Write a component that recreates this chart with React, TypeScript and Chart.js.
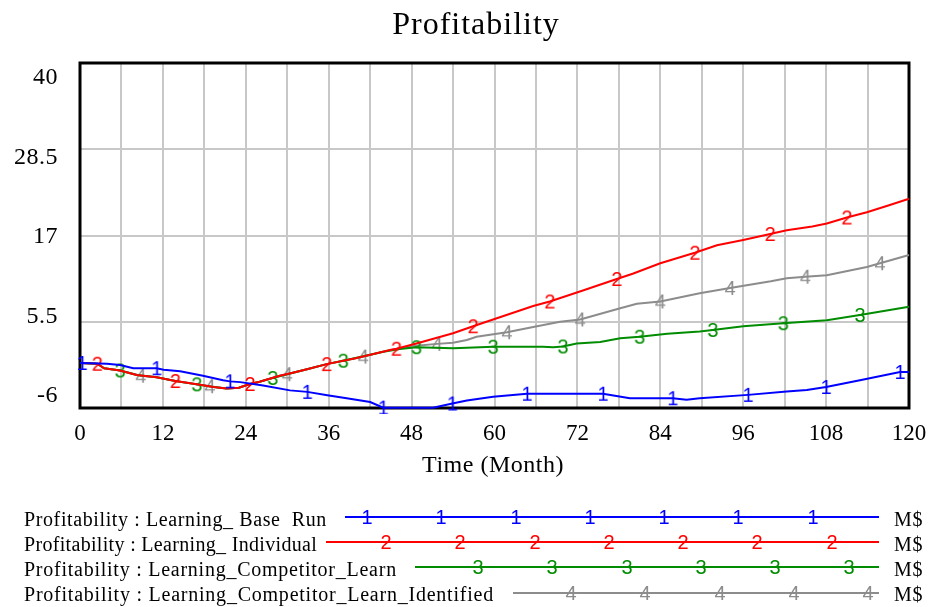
import { useEffect, useRef } from 'react';
import { Chart, registerables } from 'chart.js';

Chart.register(...registerables);

const SERIF = '"Liberation Serif", "Times New Roman", serif';
const SANS = '"Liberation Sans", Arial, sans-serif';

const chartTitle = 'Profitability';
const xAxisTitle = 'Time (Month)';
const unitLabel = 'M$';

const yTicks = [-6, 5.5, 17, 28.5, 40];
const xGridStep = 6;
const xLabelStep = 12;

// Series 1: Learning_Base Run
const baseMonths = [0, 0.3, 3.9, 5.8, 7.7, 11.1, 12.1, 14.5, 17.8, 20.7, 21.7, 23.2, 26.5, 30.4, 32.9, 35.8, 38.6, 42, 43.9, 51.1, 53.9, 56, 59.8, 64.7, 75.7, 77, 79.6, 85.8, 87.8, 89.7, 96.7, 102.3, 105.2, 108, 112.9, 118.7, 120];
const baseValues = [0, 0, -0.1, -0.27, -0.7, -0.7, -0.9, -1.1, -1.7, -2.3, -2.45, -2.55, -3.0, -3.65, -3.85, -4.3, -4.7, -5.2, -5.95, -5.95, -5.4, -5.0, -4.5, -4.1, -4.1, -4.3, -4.7, -4.7, -4.9, -4.7, -4.25, -3.8, -3.6, -3.2, -2.3, -1.2, -1.2];
const baseMarkers = [0.3, 11.1, 21.7, 32.9, 43.9, 53.9, 64.7, 75.7, 85.8, 96.7, 108, 118.7];

// Series 2: Learning_Individual
const indivMonths = [0, 2.5, 3.5, 5.8, 8.2, 11.1, 13.8, 17.4, 19.3, 21.2, 23, 24.6, 26, 28.9, 30.8, 33, 35.7, 39.9, 44.9, 45.8, 48.7, 54, 56.9, 59.8, 65.6, 68, 72.9, 77.7, 80, 84, 89, 92.2, 96, 99.9, 102.3, 106, 108.1, 111, 113.9, 117, 120];
const indivValues = [0, -0.1, -0.7, -1.0, -1.6, -1.9, -2.4, -2.9, -3.2, -3.4, -3.3, -2.8, -2.5, -1.7, -1.3, -0.8, -0.15, 0.63, 1.73, 1.9, 2.6, 3.96, 4.9, 5.8, 7.6, 8.2, 9.7, 11.2, 11.9, 13.3, 14.7, 15.7, 16.4, 17.2, 17.7, 18.2, 18.6, 19.4, 20.1, 21.0, 21.9];
const indivMarkers = [2.5, 13.8, 24.6, 35.7, 45.8, 56.9, 68, 77.7, 89, 99.9, 111];

// Series 3: Learning_Competitor_Learn
const compMonths = [0, 2.5, 3.5, 5.8, 8.2, 11.1, 13.8, 16.9, 19.3, 21.2, 23, 24.6, 26, 27.9, 30.8, 33, 35.7, 38.1, 41.5, 43.9, 46.3, 48.7, 54, 56, 59.8, 67, 68.5, 69.9, 71.9, 75.3, 78.2, 81, 85, 89.7, 91.6, 96, 101.8, 108.1, 112.9, 120];
const compValues = [0, -0.1, -0.7, -1.0, -1.6, -1.9, -2.4, -2.85, -3.2, -3.4, -3.3, -2.8, -2.5, -2.0, -1.3, -0.8, -0.15, 0.3, 1.0, 1.5, 1.87, 2.1, 1.96, 2.04, 2.17, 2.17, 2.1, 2.2, 2.6, 2.8, 3.3, 3.5, 3.9, 4.2, 4.4, 4.9, 5.3, 5.7, 6.4, 7.5];
const compMarkers = [5.8, 16.9, 27.9, 38.1, 48.7, 59.8, 69.9, 81, 91.6, 101.8, 112.9];

// Series 4: Learning_Competitor_Learn_Identified
const identMonths = [0, 2.5, 3.5, 5.8, 8.8, 11.1, 13.8, 17.4, 18.8, 21.2, 23, 24.6, 26, 28.9, 30, 33, 35.7, 39.9, 41, 44.9, 48.7, 51.7, 54, 56, 57.4, 61.8, 65.6, 69.5, 72.4, 78.2, 80.6, 84, 89.7, 94.1, 100, 102.3, 105, 108.1, 113.9, 115.8, 120];
const identValues = [0, -0.1, -0.7, -1.0, -1.7, -1.9, -2.4, -2.9, -3.1, -3.4, -3.3, -2.8, -2.5, -1.7, -1.5, -0.8, -0.15, 0.63, 0.85, 1.73, 2.3, 2.55, 2.7, 3.07, 3.5, 4.1, 4.8, 5.5, 5.8, 7.3, 7.9, 8.2, 9.3, 10.0, 10.9, 11.3, 11.5, 11.7, 12.8, 13.3, 14.4];
const identMarkers = [8.8, 18.8, 30, 41, 51.7, 61.8, 72.4, 84, 94.1, 105, 115.8];

const seriesNames = [
  'Profitability : Learning_ Base  Run',
  'Profitability : Learning_ Individual',
  'Profitability : Learning_Competitor_Learn',
  'Profitability : Learning_Competitor_Learn_Identified',
];
const seriesDigits = ['1', '2', '3', '4'];
const seriesColors = ['#0000ff', '#ff0000', '#008c00', '#8c8c8c'];

function makeDigit(d: string, color: string): HTMLCanvasElement {
  const c = document.createElement('canvas');
  c.width = 16;
  c.height = 20;
  const ctx = c.getContext('2d')!;
  ctx.font = `20px ${SANS}`;
  ctx.fillStyle = color;
  ctx.textAlign = 'center';
  ctx.textBaseline = 'alphabetic';
  const m = ctx.measureText(d);
  const asc = m.actualBoundingBoxAscent;
  const desc = m.actualBoundingBoxDescent;
  ctx.fillText(d, 8, 10 + (asc + desc) / 2 - desc);
  return c;
}

export default function App() {
  const ref = useRef<HTMLCanvasElement | null>(null);

  useEffect(() => {
    const canvas = ref.current;
    if (!canvas) return;
    const digits = seriesDigits.map((d, i) => makeDigit(d, seriesColors[i]));
    const src = [
      [baseMonths, baseValues, baseMarkers],
      [indivMonths, indivValues, indivMarkers],
      [compMonths, compValues, compMarkers],
      [identMonths, identValues, identMarkers],
    ] as number[][][];

    const datasets = src.map(([months, values, markers], i) => ({
      label: seriesNames[i],
      data: months.map((m, k) => ({ x: m, y: values[k] })),
      borderColor: seriesColors[i],
      backgroundColor: seriesColors[i],
      borderWidth: 2,
      tension: 0,
      fill: false,
      pointStyle: digits[i],
      pointRadius: (c: any) => (c.raw && markers.includes(c.raw.x) ? 5 : 0),
      pointHoverRadius: 0,
      clip: 6,
    }));

    const legendTextEnd = [327, 317, 397, 494];
    const legendLineStart = [345, 326, 415, 513];
    const legendFirstMarker = [367, 386, 478, 571];
    const legendLineEnd = 879;
    const legendMarkerStep = 74.3;
    const legendLineY = [517, 542, 567, 593];
    const legendBaseline = [526, 551, 576, 601];

    const decor = {
      id: 'decor',
      beforeDatasetsDraw(chart: any) {
        const { ctx, chartArea } = chart;
        ctx.save();
        ctx.strokeStyle = '#000';
        ctx.lineWidth = 3;
        ctx.strokeRect(chartArea.left, chartArea.top, chartArea.right - chartArea.left, chartArea.bottom - chartArea.top);
        ctx.restore();
      },
      afterDraw(chart: any) {
        const { ctx, chartArea } = chart;
        ctx.save();
        ctx.fillStyle = '#000';
        // title
        ctx.font = `32px ${SERIF}`;
        ctx.textAlign = 'center';
        ctx.textBaseline = 'alphabetic';
        (ctx as any).letterSpacing = '1px';
        ctx.fillText(chartTitle, 476, 33.5);
        // y labels
        (ctx as any).letterSpacing = '0.5px';
        ctx.font = `24px ${SERIF}`;
        ctx.textAlign = 'right';
        ctx.textBaseline = 'middle';
        const yTop = chartArea.top + 15;
        const yBot = chartArea.bottom - 12;
        const n = yTicks.length;
        yTicks.forEach((v, i) => {
          const y = yBot - (i * (yBot - yTop)) / (n - 1);
          ctx.fillText(String(v), 58, y);
        });
        // x title
        ctx.font = `24px ${SERIF}`;
        ctx.textAlign = 'center';
        ctx.textBaseline = 'alphabetic';
        ctx.fillText(xAxisTitle, 493, 472);
        // legend
        ctx.font = `20px ${SERIF}`;
        ctx.textAlign = 'left';
        seriesNames.forEach((name, i) => {
          ctx.fillStyle = '#000';
          (ctx as any).letterSpacing = '0px';
          const w = ctx.measureText(name).width;
          const sp = Math.max(0, (legendTextEnd[i] - 24 - w) / name.length);
          (ctx as any).letterSpacing = `${sp.toFixed(2)}px`;
          ctx.fillText(name, 24, legendBaseline[i]);
          (ctx as any).letterSpacing = '0.8px';
          ctx.fillText(unitLabel, 894, legendBaseline[i]);
          ctx.strokeStyle = seriesColors[i];
          ctx.lineWidth = 2;
          ctx.beginPath();
          ctx.moveTo(legendLineStart[i], legendLineY[i]);
          ctx.lineTo(legendLineEnd, legendLineY[i]);
          ctx.stroke();
          for (let x = legendFirstMarker[i]; x <= legendLineEnd - 4; x += legendMarkerStep) {
            const img = digits[i];
            ctx.drawImage(img, Math.round(x - img.width / 2), Math.round(legendLineY[i] - img.height / 2));
          }
        });
        ctx.restore();
      },
    };

    const chart = new Chart(canvas, {
      type: 'line',
      data: { datasets },
      plugins: [decor],
      options: {
        animation: false,
        responsive: false,
        maintainAspectRatio: false,
        layout: { padding: { top: 63, right: 23, bottom: 0, left: 0 } },
        plugins: { legend: { display: false }, tooltip: { enabled: false }, title: { display: false } },
        scales: {
          x: {
            type: 'linear',
            min: 0,
            max: 120,
            afterBuildTicks: (s: any) => {
              const t = [];
              for (let v = 0; v <= 120; v += xGridStep) t.push({ value: v });
              s.ticks = t;
            },
            afterFit: (s: any) => {
              s.height = 199;
              s.paddingLeft = 0;
              s.paddingRight = 0;
            },
            ticks: {
              autoSkip: false,
              maxRotation: 0,
              padding: 12,
              color: '#000',
              font: { family: SERIF, size: 23 },
              callback: (v: any) => (Number(v) % xLabelStep === 0 ? String(v) : ''),
            },
            grid: { color: 'rgb(200,200,200)', lineWidth: 2, drawTicks: false },
            border: { display: false },
          },
          y: {
            type: 'linear',
            min: -6,
            max: 40,
            afterBuildTicks: (s: any) => {
              s.ticks = yTicks.map((v) => ({ value: v }));
            },
            afterFit: (s: any) => {
              s.width = 80;
              s.paddingTop = 0;
              s.paddingBottom = 0;
            },
            ticks: { display: false },
            grid: { color: 'rgb(200,200,200)', lineWidth: 2, drawTicks: false },
            border: { display: false },
          },
        },
      },
    } as any);
    return () => chart.destroy();
  }, []);

  return (
    <div style={{ position: 'absolute', left: 0, top: 0, width: 932, height: 607, background: '#fff' }}>
      <canvas ref={ref} width={932} height={607} style={{ width: 932, height: 607, display: 'block' }} />
    </div>
  );
}
